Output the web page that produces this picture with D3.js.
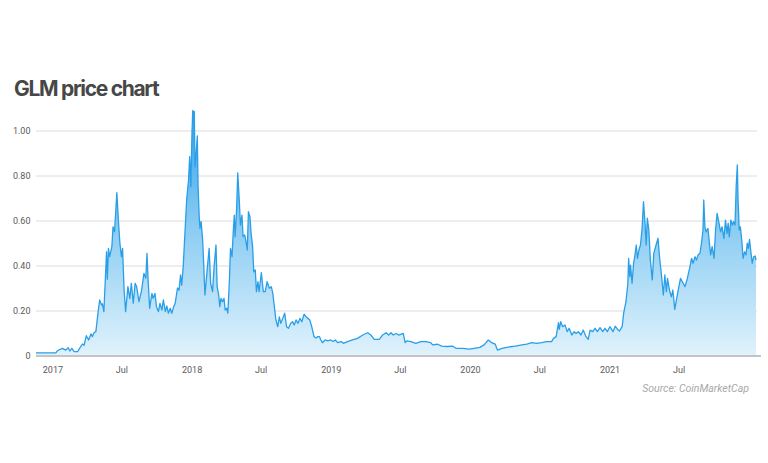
<!DOCTYPE html>
<html>
<head>
<meta charset="utf-8">
<script src="https://cdn.jsdelivr.net/npm/d3@7"></script>
<style>
  html, body { margin: 0; padding: 0; background: #ffffff; }
  svg { display: block; }
</style>
</head>
<body>
<svg id="chart" width="768" height="463"></svg>
<script>
// ---------------- DATA ----------------
const dates = [
"2016-11-19","2017-01-10","2017-01-14","2017-01-27","2017-02-05","2017-02-11","2017-02-16","2017-02-21","2017-02-27","2017-03-08",
"2017-03-16","2017-03-21","2017-03-25","2017-03-31","2017-04-06","2017-04-12","2017-04-16","2017-04-20","2017-04-25","2017-05-01",
"2017-05-05","2017-05-10","2017-05-12","2017-05-16","2017-05-23","2017-05-25","2017-05-28","2017-05-31","2017-06-06","2017-06-09",
"2017-06-13","2017-06-19","2017-06-23","2017-06-27","2017-07-01","2017-07-04","2017-07-08","2017-07-12","2017-07-18","2017-07-23",
"2017-07-27","2017-08-01","2017-08-06","2017-08-10","2017-08-16","2017-08-23","2017-08-29","2017-09-03","2017-09-06","2017-09-09",
"2017-09-13","2017-09-19","2017-09-22","2017-09-27","2017-10-01","2017-10-06","2017-10-10","2017-10-15","2017-10-19","2017-10-24",
"2017-10-28","2017-11-01","2017-11-06","2017-11-10","2017-11-15","2017-11-19","2017-11-25","2017-11-29","2017-12-03","2017-12-06",
"2017-12-10","2017-12-15","2017-12-19","2017-12-24","2017-12-27","2017-12-30","2018-01-02","2018-01-04","2018-01-08","2018-01-10",
"2018-01-13","2018-01-16","2018-01-18","2018-01-21","2018-01-23","2018-01-26","2018-01-30","2018-02-02","2018-02-05","2018-02-10",
"2018-02-16","2018-02-20","2018-02-25","2018-03-01","2018-03-06","2018-03-09","2018-03-13","2018-03-16","2018-03-19","2018-03-23",
"2018-03-27","2018-03-30","2018-04-03","2018-04-06","2018-04-10","2018-04-13","2018-04-17","2018-04-20","2018-04-23","2018-04-25",
"2018-04-29","2018-05-02","2018-05-06","2018-05-09","2018-05-13","2018-05-16","2018-05-20","2018-05-23","2018-05-27","2018-05-30",
"2018-06-03","2018-06-06","2018-06-10","2018-06-13","2018-06-17","2018-06-20","2018-06-24","2018-06-27","2018-07-03","2018-07-08",
"2018-07-13","2018-07-18","2018-07-24","2018-07-29","2018-08-02","2018-08-06","2018-08-10","2018-08-15","2018-08-19","2018-08-23",
"2018-08-28","2018-09-02","2018-09-07","2018-09-12","2018-09-18","2018-09-23","2018-09-27","2018-10-02","2018-10-07","2018-10-12",
"2018-10-17","2018-10-23","2018-10-28","2018-11-02","2018-11-07","2018-11-12","2018-11-18","2018-11-23","2018-11-28","2018-12-02",
"2018-12-06","2018-12-10","2018-12-17","2018-12-24","2019-01-01","2019-01-07","2019-01-13","2019-01-19","2019-01-28","2019-02-03",
"2019-02-14","2019-02-27","2019-03-12","2019-03-26","2019-04-08","2019-04-16","2019-04-25","2019-05-08","2019-05-17","2019-05-26",
"2019-06-02","2019-06-08","2019-06-14","2019-06-21","2019-06-28","2019-07-10","2019-07-15","2019-07-19","2019-07-30","2019-08-12",
"2019-08-25","2019-09-07","2019-09-20","2019-09-25","2019-10-08","2019-10-19","2019-11-03","2019-11-16","2019-11-25","2019-12-13",
"2019-12-30","2020-01-12","2020-01-27","2020-02-07","2020-02-18","2020-02-27","2020-03-07","2020-03-13","2020-03-25","2020-04-07",
"2020-04-20","2020-04-29","2020-05-16","2020-05-29","2020-06-11","2020-06-24","2020-07-07","2020-07-20","2020-08-02","2020-08-07",
"2020-08-14","2020-08-20","2020-08-22","2020-08-26","2020-08-31","2020-09-06","2020-09-12","2020-09-17","2020-09-24","2020-09-30",
"2020-10-05","2020-10-11","2020-10-18","2020-10-24","2020-10-31","2020-11-06","2020-11-11","2020-11-18","2020-11-24","2020-11-30",
"2020-12-07","2020-12-14","2020-12-20","2020-12-26","2021-01-02","2021-01-10","2021-01-16","2021-01-22","2021-01-27","2021-02-03",
"2021-02-07","2021-02-13","2021-02-18","2021-02-20","2021-02-23","2021-02-25","2021-03-01","2021-03-05","2021-03-08","2021-03-12",
"2021-03-15","2021-03-19","2021-03-23","2021-03-27","2021-03-31","2021-04-04","2021-04-07","2021-04-10","2021-04-14","2021-04-18",
"2021-04-23","2021-04-27","2021-05-03","2021-05-08","2021-05-12","2021-05-17","2021-05-22","2021-05-26","2021-05-30","2021-06-02",
"2021-06-07","2021-06-12","2021-06-16","2021-06-21","2021-06-26","2021-06-30","2021-07-06","2021-07-13","2021-07-18","2021-07-24",
"2021-07-30","2021-08-04","2021-08-08","2021-08-13","2021-08-17","2021-08-21","2021-08-26","2021-08-30","2021-09-03","2021-09-05",
"2021-09-08","2021-09-11","2021-09-16","2021-09-19","2021-09-23","2021-09-27","2021-10-02","2021-10-06","2021-10-10","2021-10-15",
"2021-10-19","2021-10-23","2021-10-28","2021-11-01","2021-11-05","2021-11-08","2021-11-11","2021-11-15","2021-11-19","2021-11-22",
"2021-11-26","2021-11-29","2021-12-02","2021-12-04","2021-12-07","2021-12-10","2021-12-14","2021-12-17","2021-12-21","2021-12-25",
"2021-12-28","2021-12-31","2022-01-03","2022-01-07","2022-01-10","2022-01-14","2022-01-18","2022-01-20"
];
const prices = [
0.012,0.012,0.021,0.032,0.024,0.035,0.020,0.032,0.017,0.017,
0.039,0.051,0.045,0.088,0.069,0.096,0.084,0.101,0.106,0.195,
0.247,0.224,0.230,0.195,0.461,0.339,0.476,0.439,0.484,0.572,
0.550,0.724,0.602,0.499,0.439,0.476,0.291,0.195,0.306,0.254,
0.321,0.232,0.321,0.306,0.239,0.291,0.365,0.343,0.454,0.336,
0.210,0.276,0.254,0.276,0.217,0.195,0.232,0.202,0.247,0.195,
0.220,0.188,0.210,0.188,0.217,0.232,0.300,0.290,0.358,0.313,
0.395,0.558,0.691,0.780,0.884,0.750,0.988,1.088,1.084,0.839,
0.899,0.976,0.750,0.617,0.565,0.595,0.513,0.395,0.269,0.365,
0.476,0.321,0.284,0.395,0.491,0.306,0.269,0.217,0.254,0.239,
0.254,0.202,0.210,0.188,0.328,0.476,0.439,0.543,0.624,0.528,
0.647,0.812,0.691,0.580,0.624,0.528,0.536,0.513,0.469,0.639,
0.617,0.543,0.484,0.372,0.380,0.284,0.328,0.284,0.368,0.284,
0.284,0.328,0.299,0.306,0.276,0.217,0.158,0.128,0.172,0.143,
0.165,0.188,0.128,0.121,0.143,0.150,0.136,0.158,0.143,0.165,
0.150,0.184,0.172,0.165,0.158,0.128,0.084,0.078,0.084,0.084,
0.069,0.057,0.069,0.065,0.069,0.062,0.069,0.057,0.062,0.054,
0.062,0.069,0.076,0.091,0.101,0.091,0.072,0.072,0.091,0.101,
0.091,0.101,0.091,0.098,0.091,0.098,0.057,0.065,0.062,0.054,
0.062,0.062,0.057,0.047,0.050,0.042,0.040,0.042,0.032,0.032,
0.028,0.032,0.036,0.047,0.069,0.057,0.051,0.024,0.032,0.036,
0.040,0.042,0.047,0.051,0.057,0.054,0.057,0.062,0.062,0.076,
0.084,0.146,0.116,0.150,0.128,0.136,0.106,0.121,0.091,0.106,
0.098,0.106,0.091,0.113,0.084,0.072,0.113,0.106,0.121,0.106,
0.124,0.106,0.121,0.106,0.128,0.106,0.130,0.116,0.109,0.128,
0.188,0.239,0.321,0.432,0.350,0.402,0.321,0.410,0.439,0.491,
0.432,0.469,0.491,0.558,0.684,0.588,0.491,0.610,0.558,0.424,
0.336,0.454,0.491,0.521,0.439,0.358,0.269,0.358,0.284,0.343,
0.291,0.261,0.291,0.205,0.254,0.291,0.343,0.321,0.306,0.343,
0.388,0.432,0.410,0.439,0.424,0.447,0.454,0.499,0.558,0.691,
0.572,0.550,0.565,0.513,0.447,0.484,0.432,0.558,0.632,0.588,
0.550,0.572,0.521,0.602,0.543,0.588,0.528,0.602,0.580,0.595,
0.580,0.750,0.847,0.691,0.558,0.572,0.506,0.432,0.461,0.447,
0.499,0.476,0.516,0.454,0.410,0.439,0.442,0.424
];
const yTickValues = [0, 0.2, 0.4, 0.6, 0.8, 1.0];
const yTickLabels = ["0", "0.20", "0.40", "0.60", "0.80", "1.00"];
const xTickDates = ["2017-01-01","2017-07-01","2018-01-01","2018-07-01","2019-01-01","2019-07-01","2020-01-01","2020-07-01","2021-01-01","2021-07-01"];
const xTickLabels = ["2017","Jul","2018","Jul","2019","Jul","2020","Jul","2021","Jul"];
const titleText = "GLM price chart";
const sourceText = "Source: CoinMarketCap";

// ---------------- CHART ----------------
const parse = d3.utcParse("%Y-%m-%d");
const data = dates.map((d, i) => ({ date: parse(d), value: prices[i] }));

const svg = d3.select("#chart");
const left = 36, right = 756, plotRight = 757, baseY = 355.5, topY = 130.5;

const x = d3.scaleUtc()
  .domain(d3.extent(data, d => d.date))
  .range([left, right]);
const y = d3.scaleLinear().domain([0, 1]).range([baseY, topY]);

const font = "Roboto, 'Noto Sans', sans-serif";

// Title
svg.append("text")
  .attr("x", 14).attr("y", 96)
  .attr("font-family", "Inter, Lato, sans-serif")
  .attr("font-weight", 700)
  .attr("font-size", 21)
  .attr("letter-spacing", "-1.3px")
  .attr("fill", "#474747")
  .text(titleText);

// Gradient
const defs = svg.append("defs");
const grad = defs.append("linearGradient")
  .attr("id", "areaGrad")
  .attr("gradientUnits", "userSpaceOnUse")
  .attr("x1", 0).attr("x2", 0)
  .attr("y1", y(1.09)).attr("y2", baseY);
grad.append("stop").attr("offset", "0%").attr("stop-color", "#2f9fe8");
grad.append("stop").attr("offset", "45%").attr("stop-color", "#86caf2");
grad.append("stop").attr("offset", "100%").attr("stop-color", "#e0f2fc");

// Grid + y labels via axis
const yAxis = d3.axisLeft(y)
  .tickValues(yTickValues)
  .tickFormat((d, i) => yTickLabels[i])
  .tickSize(-(plotRight - left))
  .tickPadding(5.5);
const gy = svg.append("g").attr("transform", `translate(${left},0)`).call(yAxis);
gy.select(".domain").remove();
gy.selectAll(".tick line")
  .attr("stroke", "#dcdcdc")
  .attr("stroke-width", 1)
  .attr("display", d => d === 0 ? "none" : null);
gy.selectAll(".tick text")
  .attr("font-family", font)
  .attr("font-size", 9)
  .attr("fill", "#5a5a5a");

// Area and line
const area = d3.area()
  .x(d => x(d.date))
  .y0(baseY)
  .y1(d => y(d.value));
svg.append("path")
  .datum(data)
  .attr("d", area)
  .attr("fill", "url(#areaGrad)");

const line = d3.line()
  .x(d => x(d.date))
  .y(d => y(d.value));
svg.append("path")
  .datum(data)
  .attr("d", line)
  .attr("fill", "none")
  .attr("stroke", "#2a9fe8")
  .attr("stroke-width", 1.3)
  .attr("stroke-linejoin", "round");

// Baseline
svg.append("line")
  .attr("x1", left).attr("x2", 761)
  .attr("y1", baseY + 0.5).attr("y2", baseY + 0.5)
  .attr("stroke", "#c4c4c4")
  .attr("stroke-width", 2);

// X axis labels
const xAxis = d3.axisBottom(x)
  .tickValues(xTickDates.map(parse))
  .tickFormat((d, i) => xTickLabels[i])
  .tickSize(0)
  .tickPadding(11);
const gx = svg.append("g").attr("transform", `translate(0,${baseY})`).call(xAxis);
gx.select(".domain").remove();
gx.selectAll(".tick text")
  .attr("font-family", font)
  .attr("font-size", 9)
  .attr("fill", "#5a5a5a");

// Source
svg.append("text")
  .attr("x", 749).attr("y", 392)
  .attr("text-anchor", "end")
  .attr("font-family", font)
  .attr("font-style", "italic")
  .attr("font-size", 10.5)
  .attr("fill", "#a8a8a8")
  .text(sourceText);
</script>
</body>
</html>
